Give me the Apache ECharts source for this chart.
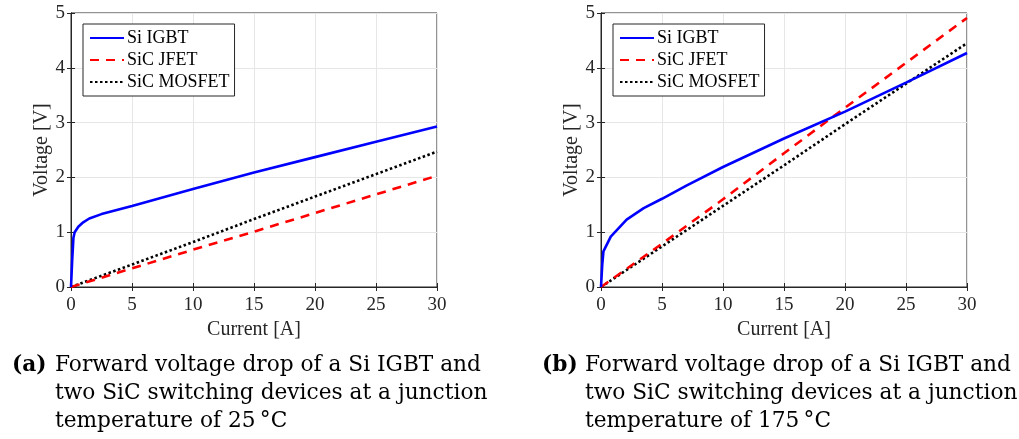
<!DOCTYPE html>
<html><head><meta charset="utf-8">
<script src="https://cdn.jsdelivr.net/npm/echarts@6/dist/echarts.min.js"></script>
<style>html,body{margin:0;padding:0;background:#fff}#c{width:1019px;height:439px}</style>
</head><body><div id="c"></div>
<script>
// Data (current in A, voltage in V)
const seriesNames = ['Si IGBT', 'SiC JFET', 'SiC MOSFET'];
const xTicks = [0, 5, 10, 15, 20, 25, 30];
const yTicks = [0, 1, 2, 3, 4, 5];
// 25 °C
const igbt25 = [[0,0],[0.1,0.5],[0.2,0.9],[0.3,1.0],[0.6,1.1],[1.0,1.18],[1.5,1.25],[2.5,1.33],[5,1.48],[10,1.79],[15,2.09],[20,2.37],[25,2.65],[30,2.93]];
const jfet25 = [[0,0],[5,0.34],[10,0.68],[15,1.01],[20,1.35],[25,1.69],[30,2.03]];
const mosfet25 = [[0,0],[5,0.41],[10,0.82],[15,1.24],[20,1.65],[25,2.06],[30,2.47]];
// 175 °C
const igbt175 = [[0,0],[0.1,0.4],[0.2,0.65],[0.8,0.92],[2.1,1.23],[3.5,1.44],[5,1.61],[7,1.85],[10,2.19],[15,2.71],[20,3.2],[25,3.73],[30,4.27]];
const jfet175 = [[0,0],[5,0.79],[10,1.6],[15,2.44],[20,3.27],[25,4.09],[30,4.91]];
const mosfet175 = [[0,0],[5,0.74],[10,1.48],[15,2.22],[20,2.97],[25,3.71],[30,4.45]];
const labelA = '(a)';
const labelB = '(b)';
const captionA = ['Forward voltage drop of a Si IGBT and', 'two SiC switching devices at a junction', 'temperature of 25\u2009°C'];
const captionB = ['Forward voltage drop of a Si IGBT and', 'two SiC switching devices at a junction', 'temperature of 175\u2009°C'];

const AX = '#262626';
const FONT = '"Liberation Serif", "Times New Roman", serif';
const CAPFONT = '"DejaVu Serif", serif';
// fit caption font size to the reference line width
const mctx = document.createElement('canvas').getContext('2d');
mctx.font = '20px "DejaVu Serif"';
const capSize = Math.round(20 * 426 / mctx.measureText(captionA[0]).width * 10) / 10;

const grids = [
  {left: 71, top: 13, width: 366, height: 274, show: true, borderColor: AX, borderWidth: 1, backgroundColor: '#fff'},
  {left: 601, top: 13, width: 366, height: 274, show: true, borderColor: AX, borderWidth: 1, backgroundColor: '#fff'}
];
function xAxes(g) {
  return [{
    type: 'value', gridIndex: g, min: xTicks[0], max: xTicks[xTicks.length - 1], interval: xTicks[1] - xTicks[0],
    name: 'Current [A]', nameLocation: 'middle', nameGap: 31,
    nameTextStyle: {fontFamily: FONT, fontSize: 20, color: AX},
    axisLine: {show: true, lineStyle: {color: AX}},
    axisTick: {show: true, inside: true, length: 4, lineStyle: {color: AX}},
    axisLabel: {fontFamily: FONT, fontSize: 19, color: AX, margin: 9},
    splitLine: {show: true, lineStyle: {color: '#e6e6e6'}}
  }, {
    type: 'value', gridIndex: g, min: xTicks[0], max: xTicks[xTicks.length - 1], interval: xTicks[1] - xTicks[0], position: 'top',
    axisLine: {show: true, lineStyle: {color: AX}},
    axisTick: {show: true, inside: true, length: 4, lineStyle: {color: AX}},
    axisLabel: {show: false}, splitLine: {show: false}
  }];
}
function yAxes(g) {
  return [{
    type: 'value', gridIndex: g, min: yTicks[0], max: yTicks[yTicks.length - 1], interval: yTicks[1] - yTicks[0],
    name: 'Voltage [V]', nameLocation: 'middle', nameGap: 17,
    nameTextStyle: {fontFamily: FONT, fontSize: 20, color: AX},
    axisLine: {show: true, lineStyle: {color: AX}},
    axisTick: {show: true, inside: true, length: 4, lineStyle: {color: AX}},
    axisLabel: {fontFamily: FONT, fontSize: 19, color: AX, margin: 6},
    splitLine: {show: true, lineStyle: {color: '#e6e6e6'}}
  }, {
    type: 'value', gridIndex: g, min: yTicks[0], max: yTicks[yTicks.length - 1], interval: yTicks[1] - yTicks[0], position: 'right',
    axisLine: {show: true, lineStyle: {color: AX}},
    axisTick: {show: true, inside: true, length: 4, lineStyle: {color: AX}},
    axisLabel: {show: false}, splitLine: {show: false}
  }];
}
const styles = [
  {color: '#0000ff', type: 'solid', width: 2.6},
  {color: '#ff0000', type: [9, 7], width: 2.6},
  {color: '#000000', type: [2.5, 2.5], width: 2.6}
];
function mk(name, data, k, g) {
  return {
    name: name, type: 'line', xAxisIndex: g * 2, yAxisIndex: g * 2, data: data,
    showSymbol: false, symbol: 'none', smooth: false, animation: false,
    lineStyle: styles[k], itemStyle: {color: styles[k].color}, z: 3 + (2 - k)
  };
}
const series = [
  mk(seriesNames[0], igbt25, 0, 0), mk(seriesNames[1], jfet25, 1, 0), mk(seriesNames[2], mosfet25, 2, 0),
  mk(seriesNames[0], igbt175, 0, 1), mk(seriesNames[1], jfet175, 1, 1), mk(seriesNames[2], mosfet175, 2, 1)
];
function legend(left) {
  return {
    orient: 'vertical', left: left, top: 24, data: seriesNames,
    itemWidth: 34, itemHeight: 12, itemGap: 4,
    itemStyle: {opacity: 0},
    backgroundColor: '#fff', borderColor: AX, borderWidth: 1, padding: [5, 5, 5, 6],
    textStyle: {fontFamily: FONT, fontSize: 18, color: '#000', lineHeight: 18, padding: [0, 0, 0, -2]},
    selectedMode: false
  };
}
function caption(left, label, lines) {
  return [{
    type: 'text', left: left, top: 351,
    style: {text: label, fontFamily: CAPFONT, fontWeight: 'bold', fontSize: capSize, lineHeight: 28, fill: '#000'}
  }, {
    type: 'text', left: left + 43, top: 351,
    style: {text: lines.join('\n'), fontFamily: CAPFONT, fontSize: capSize, lineHeight: 28, fill: '#000'}
  }];
}
const chart = echarts.init(document.getElementById('c'), null, {renderer: 'canvas'});
chart.setOption({
  animation: false,
  backgroundColor: '#fff',
  grid: grids,
  xAxis: [...xAxes(0), ...xAxes(1)],
  yAxis: [...yAxes(0), ...yAxes(1)],
  legend: [legend(83), legend(613)],
  series: series,
  graphic: [...caption(12, labelA, captionA), ...caption(542, labelB, captionB)]
});
</script></body></html>
